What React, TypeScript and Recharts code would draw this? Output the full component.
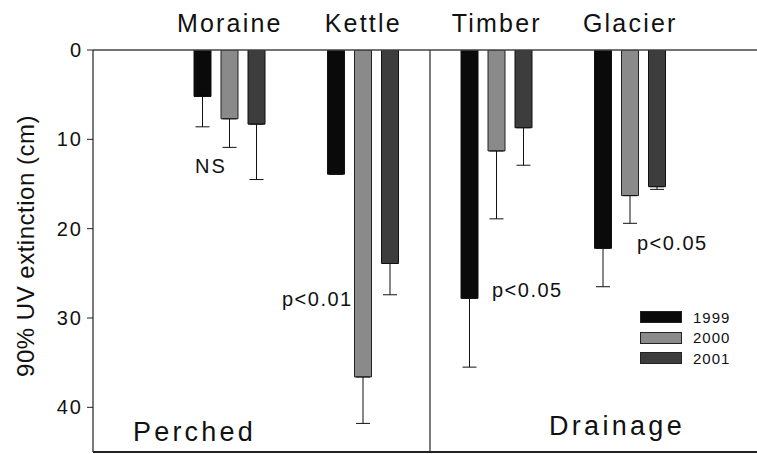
import React from 'react';
import { BarChart, Bar, XAxis, YAxis, ErrorBar, ReferenceLine, Legend, Customized } from 'recharts';

const categories = ['Moraine', 'Kettle', 'Timber', 'Glacier'];
const years = ['1999', '2000', '2001'];
const v1999 = [5.2, 13.9, 27.8, 22.2];
const v2000 = [7.7, 36.6, 11.3, 16.3];
const v2001 = [8.3, 23.9, 8.7, 15.3];
const e1999 = [3.4, 0, 7.7, 4.3];
const e2000 = [3.2, 5.2, 7.6, 3.1];
const e2001 = [6.2, 3.5, 4.2, 0.3];
const yTicks = [0, 10, 20, 30, 40];
const yMax = 45;
const colors = ['#0a0a0a', '#8a8a8a', '#3d3d3d'];

const FONT = '"Liberation Sans", Arial, sans-serif';

const data = categories.map((c, i) => ({
  cat: c,
  y1999: v1999[i],
  y2000: v2000[i],
  y2001: v2001[i],
  e1999: [0, e1999[i]],
  e2000: [0, e2000[i]],
  e2001: [0, e2001[i]],
}));

const CatTick = (props: any) => {
  const { x, payload } = props;
  return (
    <text x={x} y={32} textAnchor="middle" fontFamily={FONT} fontSize={25} letterSpacing={2.2} fill="#111">
      {payload.value}
    </text>
  );
};

const Annotations = () => (
  <g fontFamily={FONT} fill="#111">
    <text x={195} y={173} fontSize={20} letterSpacing={2}>NS</text>
    <text x={282} y={306} fontSize={20} letterSpacing={1.5}>p&lt;0.01</text>
    <text x={492} y={297} fontSize={20} letterSpacing={1.5}>p&lt;0.05</text>
    <text x={637} y={250} fontSize={20} letterSpacing={1.5}>p&lt;0.05</text>
    <text x={133} y={441} fontSize={27} letterSpacing={3.2}>Perched</text>
    <text x={549} y={435} fontSize={27} letterSpacing={3.3}>Drainage</text>
    <text x={34} y={246} fontSize={24} letterSpacing={0.5} textAnchor="middle" transform="rotate(-90, 34, 246)">
      90% UV extinction (cm)
    </text>
  </g>
);

const LegendContent = () => (
  <div style={{ fontFamily: FONT }}>
    {years.map((y, i) => (
      <div key={y} style={{ display: 'flex', alignItems: 'center', height: 20.5 }}>
        <span
          style={{
            display: 'inline-block',
            width: 42,
            height: 12,
            background: colors[i],
            border: '1px solid #222',
            boxSizing: 'border-box',
          }}
        />
        <span style={{ marginLeft: 11, fontSize: 15, letterSpacing: 1, color: '#111', lineHeight: '15px' }}>{y}</span>
      </div>
    ))}
  </div>
);

export default function App() {
  return (
    <div style={{ position: 'absolute', left: 0, top: 0, background: '#fff' }}>
      <BarChart
        width={757}
        height={454}
        data={data}
        margin={{ top: 20, right: 0, bottom: 2, left: 0 }}
        barSize={17}
        barGap={10}
      >
        <XAxis
          dataKey="cat"
          orientation="top"
          height={30}
          padding={{ left: 70, right: 60 }}
          axisLine={{ stroke: '#444', strokeWidth: 1.5 }}
          tickLine={false}
          tick={<CatTick />}
          interval={0}
        />
        <YAxis
          reversed
          domain={[0, yMax]}
          ticks={yTicks}
          width={93}
          tickSize={6}
          tickMargin={4}
          axisLine={{ stroke: '#222', strokeWidth: 1.2 }}
          tickLine={{ stroke: '#222' }}
          tick={{ fontSize: 20, fill: '#111', fontFamily: FONT, letterSpacing: 2 }}
          allowDataOverflow
        />
        <ReferenceLine x="Kettle" position="end" stroke="#222" strokeWidth={1.2} />
        <ReferenceLine y={yMax} stroke="#222" strokeWidth={2} />
        <Bar dataKey="y1999" name="1999" fill={colors[0]} stroke="#111" strokeWidth={1} isAnimationActive={false}>
          <ErrorBar dataKey="e1999" width={7} stroke="#111" strokeWidth={1} direction="y" />
        </Bar>
        <Bar dataKey="y2000" name="2000" fill={colors[1]} stroke="#222" strokeWidth={1} isAnimationActive={false}>
          <ErrorBar dataKey="e2000" width={7} stroke="#111" strokeWidth={1} direction="y" />
        </Bar>
        <Bar dataKey="y2001" name="2001" fill={colors[2]} stroke="#111" strokeWidth={1} isAnimationActive={false}>
          <ErrorBar dataKey="e2001" width={7} stroke="#111" strokeWidth={1} direction="y" />
        </Bar>
        <Legend
          layout="vertical"
          align="center"
          verticalAlign="middle"
          content={<LegendContent />}
          wrapperStyle={{ left: 640, top: 307, width: 110 }}
        />
        <Customized component={<Annotations />} />
      </BarChart>
    </div>
  );
}
